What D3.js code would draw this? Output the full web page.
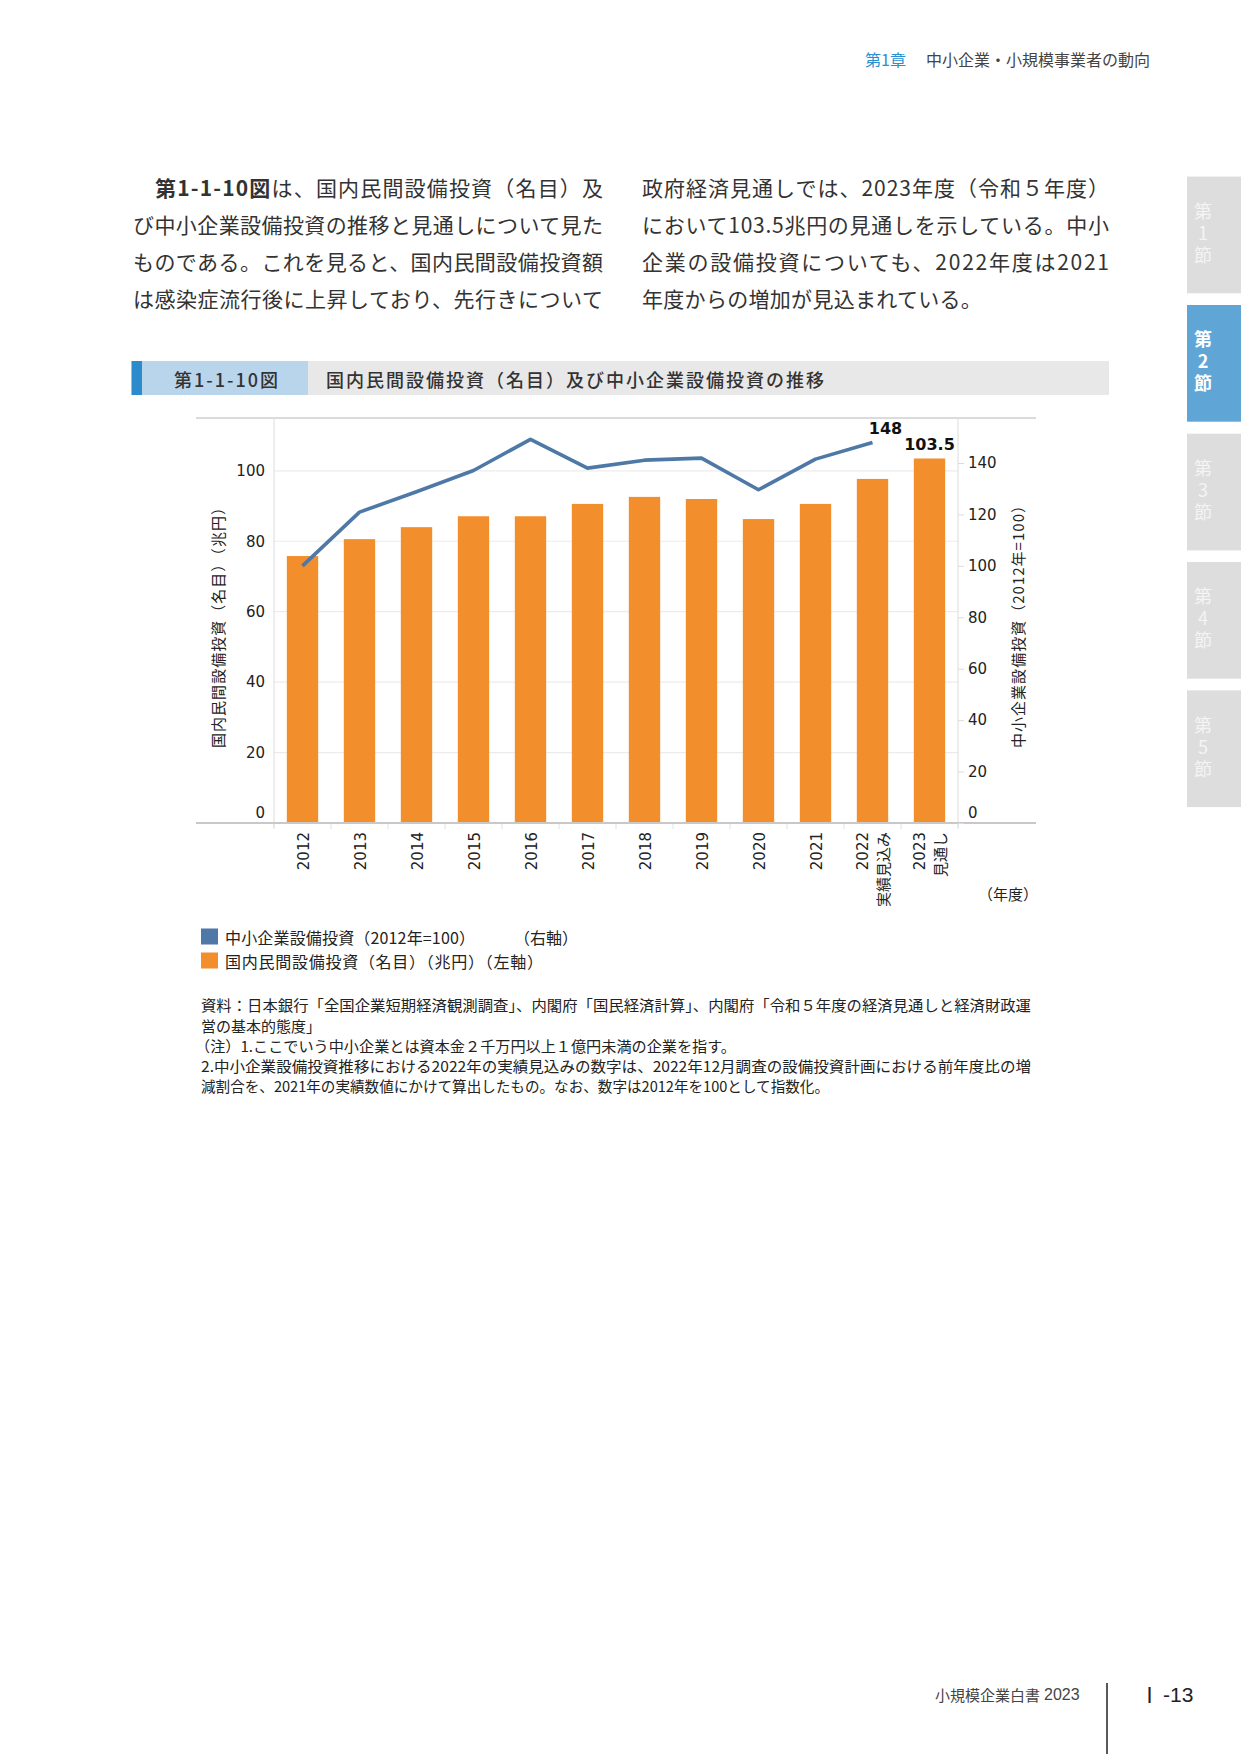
<!DOCTYPE html>
<html><head><meta charset="utf-8">
<script src="https://cdn.jsdelivr.net/npm/d3@7"></script>
<style>
body{margin:0;background:#fff}
svg{display:block}
.vtab{writing-mode:vertical-rl;text-orientation:upright}
</style>
</head><body>
<svg id="page" width="1241" height="1754"></svg>
<script>
// ---------- data ----------
const years = ["2012","2013","2014","2015","2016","2017","2018","2019","2020","2021","2022","2023"];
const yearNotes = ["","","","","","","","","","","実績見込み","見通し"];
const domesticCapex = [75.8, 80.6, 84.0, 87.1, 87.1, 90.6, 92.6, 92.0, 86.3, 90.6, 97.7, 103.5]; // 兆円 (left axis)
const smeIndexYears = ["2012","2013","2014","2015","2016","2017","2018","2019","2020","2021","2022"];
const smeIndex = [100, 120.9, 128.8, 137.1, 149.2, 138.0, 141.1, 141.9, 129.6, 141.5, 148]; // 2012=100 (right axis)
const leftTicks = [0, 20, 40, 60, 80, 100];
const rightTicks = [0, 20, 40, 60, 80, 100, 120, 140];
const dataLabels = [{series:"line", year:"2022", text:"148"}, {series:"bar", year:"2023", text:"103.5"}];

const leftTitle = "国内民間設備投資（名目）（兆円）";
const rightTitle = "中小企業設備投資（2012年=100）";
const legendLine = "中小企業設備投資（2012年=100）";
const legendLineAxis = "（右軸）";
const legendBar = "国内民間設備投資（名目）（兆円）（左軸）";
const notes = [
  "資料：日本銀行「全国企業短期経済観測調査」、内閣府「国民経済計算」、内閣府「令和５年度の経済見通しと経済財政運",
  "営の基本的態度」",
  "（注）1.ここでいう中小企業とは資本金２千万円以上１億円未満の企業を指す。",
  "2.中小企業設備投資推移における2022年の実績見込みの数字は、2022年12月調査の設備投資計画における前年度比の増",
  "減割合を、2021年の実績数値にかけて算出したもの。なお、数字は2012年を100として指数化。"
];
const paraLeft = [
  "は、国内民間設備投資（名目）及",
  "び中小企業設備投資の推移と見通しについて見た",
  "ものである。これを見ると、国内民間設備投資額",
  "は感染症流行後に上昇しており、先行きについて"
];
const paraRight = [
  "政府経済見通しでは、2023年度（令和５年度）",
  "において103.5兆円の見通しを示している。中小",
  "企業の設備投資についても、2022年度は2021",
  "年度からの増加が見込まれている。"
];
const tabs = ["1","2","3","4","5"];

// ---------- page ----------
const svg = d3.select("#page");
const JP = "'Noto Sans CJK JP', 'Noto Sans', sans-serif";
const CH = "'DejaVu Sans', 'Noto Sans CJK JP', sans-serif";
const BLUE = "#4e79a7", ORANGE = "#f28e2b";

// header
const hdr = svg.append("text").attr("x", 865).attr("y", 59).attr("dominant-baseline", "central")
  .attr("font-family", JP).attr("font-size", 16);
hdr.append("tspan").attr("fill", "#2a8fd0").text("第1章");
hdr.append("tspan").attr("x", 926).attr("fill", "#444").text("中小企業・小規模事業者の動向");

// side tabs
const tabTops = [176.6, 305, 433.7, 562, 690.4];
tabs.forEach((t, i) => {
  const g = svg.append("g");
  const active = i === 1;
  g.append("rect").attr("x", 1187).attr("y", tabTops[i]).attr("width", 54).attr("height", 116.7)
    .attr("fill", active ? "#5fa6d7" : "#dddddd");
  const cy = tabTops[i] + 58.3;
  g.append("text").attr("class", "vtab").attr("x", 1203).attr("y", cy).attr("text-anchor", "middle")
    .attr("font-family", JP).attr("font-size", 18).attr("letter-spacing", 4)
    .attr("font-weight", active ? 700 : 400)
    .attr("fill", active ? "#ffffff" : "#f4f4f4").text("第" + t + "節");
});

// paragraph
const lineY = [187, 223.5, 261, 298];
paraLeft.forEach((s, i) => {
  const t = svg.append("text").attr("y", lineY[i]).attr("dominant-baseline", "central")
    .attr("font-family", JP).attr("font-size", 21).attr("fill", "#333");
  if (i === 0) {
    t.attr("x", 155).attr("textLength", 448).attr("lengthAdjust", "spacing");
    t.append("tspan").attr("font-weight", 700).text("第1-1-10図");
    t.append("tspan").text(s);
  } else {
    t.attr("x", 133).attr("textLength", 470).attr("lengthAdjust", "spacing").text(s);
  }
});
paraRight.forEach((s, i) => {
  const t = svg.append("text").attr("x", 642).attr("y", lineY[i]).attr("dominant-baseline", "central")
    .attr("font-family", JP).attr("font-size", 21).attr("fill", "#333").text(s);
  if (i < 3) t.attr("textLength", 467).attr("lengthAdjust", "spacing");
  else t.attr("letter-spacing", 0.3);
});

// figure title bar
svg.append("rect").attr("x", 131.5).attr("y", 361).attr("width", 977.5).attr("height", 34).attr("fill", "#e8e8e8");
svg.append("rect").attr("x", 131.5).attr("y", 361).attr("width", 10.5).attr("height", 34).attr("fill", "#2b8bcb");
svg.append("rect").attr("x", 142).attr("y", 361).attr("width", 166).attr("height", 34).attr("fill", "#b9d5eb");
svg.append("text").attr("x", 226).attr("y", 378.5).attr("text-anchor", "middle").attr("dominant-baseline", "central")
  .attr("font-family", JP).attr("font-size", 18).attr("font-weight", 500).attr("fill", "#333")
  .attr("textLength", 104).attr("lengthAdjust", "spacing").text("第1-1-10図");
svg.append("text").attr("x", 326).attr("y", 378.5).attr("dominant-baseline", "central")
  .attr("font-family", JP).attr("font-size", 18).attr("font-weight", 500).attr("fill", "#333")
  .attr("textLength", 498).attr("lengthAdjust", "spacing").text("国内民間設備投資（名目）及び中小企業設備投資の推移");

// ---------- chart ----------
const L = 274, R = 958, T = 418, B = 823;
const x = d3.scaleBand().domain(years).range([L, R]).paddingInner(0.45).paddingOuter(0.225);
const yL = d3.scaleLinear().domain([0, 115]).range([B, T]);
const yR = d3.scaleLinear().domain([0, 157.5]).range([B, T]);
const cx = d => x(d) + x.bandwidth() / 2;

// gridlines
svg.append("g").selectAll("line").data(leftTicks.filter(d => d > 0)).join("line")
  .attr("x1", L).attr("x2", R).attr("y1", d => yL(d)).attr("y2", d => yL(d))
  .attr("stroke", "#ececec").attr("stroke-width", 1.2);

// frame
svg.append("line").attr("x1", 196).attr("x2", 1036).attr("y1", T).attr("y2", T).attr("stroke", "#cfcfcf").attr("stroke-width", 1.5);
svg.append("line").attr("x1", L).attr("x2", L).attr("y1", T).attr("y2", 828).attr("stroke", "#dcdcdc").attr("stroke-width", 1);
svg.append("line").attr("x1", R).attr("x2", R).attr("y1", T).attr("y2", 828).attr("stroke", "#dcdcdc").attr("stroke-width", 1);

// bars
svg.append("g").selectAll("rect").data(years).join("rect")
  .attr("x", d => x(d)).attr("width", x.bandwidth())
  .attr("y", (d, i) => yL(domesticCapex[i])).attr("height", (d, i) => B - yL(domesticCapex[i]))
  .attr("fill", ORANGE);

// baseline
svg.append("line").attr("x1", 196).attr("x2", 1036).attr("y1", B).attr("y2", B).attr("stroke", "#c8c8c8").attr("stroke-width", 2);

// category boundary ticks
const bounds = years.map(d => cx(d) - x.step() / 2).concat([cx(years[years.length - 1]) + x.step() / 2]);
svg.append("g").selectAll("line").data(bounds).join("line")
  .attr("x1", d => d).attr("x2", d => d).attr("y1", B + 1).attr("y2", B + 6)
  .attr("stroke", "#e0e0e0").attr("stroke-width", 1);

// line
const lineGen = d3.line().x(d => cx(d.year)).y(d => yR(d.v));
svg.append("path").datum(smeIndexYears.map((y, i) => ({year: y, v: smeIndex[i]})))
  .attr("d", lineGen).attr("fill", "none").attr("stroke", BLUE).attr("stroke-width", 3.6)
  .attr("stroke-linejoin", "round");

// left axis
const axL = svg.append("g").attr("transform", `translate(${L},0)`)
  .call(d3.axisLeft(yL).tickValues(leftTicks).tickSize(0).tickPadding(9));
axL.select(".domain").remove();
axL.selectAll("text").attr("font-family", CH).attr("font-size", 15).attr("fill", "#222")
  .attr("dy", d => d === 0 ? "-0.35em" : "0.32em");

// right axis
const axR = svg.append("g").attr("transform", `translate(${R},0)`)
  .call(d3.axisRight(yR).tickValues(rightTicks).tickSize(6).tickPadding(4));
axR.select(".domain").remove();
axR.selectAll("line").attr("stroke", "#dcdcdc");
axR.selectAll("text").attr("font-family", CH).attr("font-size", 15).attr("fill", "#222")
  .attr("dy", d => d === 0 ? "-0.35em" : "0.32em");

// x labels (rotated)
const xl = svg.append("g");
years.forEach((yr, i) => {
  const c = cx(yr);
  if (yearNotes[i]) {
    xl.append("text").attr("transform", `translate(${c - 9.5},832) rotate(-90)`)
      .attr("text-anchor", "end").attr("dominant-baseline", "central")
      .attr("font-family", CH).attr("font-size", 15).attr("fill", "#222").text(yr);
    xl.append("text").attr("transform", `translate(${c + 10},832) rotate(-90)`)
      .attr("text-anchor", "end").attr("dominant-baseline", "central")
      .attr("font-family", JP).attr("font-size", 15).attr("fill", "#222").text(yearNotes[i]);
  } else {
    xl.append("text").attr("transform", `translate(${c + 1},832) rotate(-90)`)
      .attr("text-anchor", "end").attr("dominant-baseline", "central")
      .attr("font-family", CH).attr("font-size", 15).attr("fill", "#222").text(yr);
  }
});

// axis titles
svg.append("text").attr("transform", "translate(217,624) rotate(-90)").attr("text-anchor", "middle")
  .attr("dominant-baseline", "central").attr("font-family", JP).attr("font-size", 15).attr("fill", "#222")
  .attr("textLength", 248).attr("lengthAdjust", "spacing").text(leftTitle);
svg.append("text").attr("transform", "translate(1017,623) rotate(-90)").attr("text-anchor", "middle")
  .attr("dominant-baseline", "central").attr("font-family", JP).attr("font-size", 15).attr("fill", "#222")
  .attr("textLength", 250).attr("lengthAdjust", "spacing").text(rightTitle);
svg.append("text").attr("x", 1008).attr("y", 893).attr("text-anchor", "middle").attr("dominant-baseline", "central")
  .attr("font-family", JP).attr("font-size", 15).attr("fill", "#222").text("（年度）");

// data labels
dataLabels.forEach(dl => {
  let px, py;
  if (dl.series === "line") {
    const i = smeIndexYears.indexOf(dl.year);
    px = cx(dl.year) + 13; py = yR(smeIndex[i]) - 14;
  } else {
    const i = years.indexOf(dl.year);
    px = cx(dl.year); py = yL(domesticCapex[i]) - 14;
  }
  svg.append("text").attr("x", px).attr("y", py).attr("text-anchor", "middle").attr("dominant-baseline", "central")
    .attr("font-family", CH).attr("font-size", 16).attr("font-weight", 700).attr("fill", "#111").text(dl.text);
});

// legend
svg.append("rect").attr("x", 201).attr("y", 928.5).attr("width", 17).attr("height", 16).attr("fill", BLUE);
svg.append("rect").attr("x", 201).attr("y", 952.5).attr("width", 17).attr("height", 16).attr("fill", ORANGE);
svg.append("text").attr("x", 225).attr("y", 937).attr("dominant-baseline", "central").attr("font-family", JP)
  .attr("font-size", 16).attr("fill", "#222").attr("textLength", 250).attr("lengthAdjust", "spacing").text(legendLine);
svg.append("text").attr("x", 514).attr("y", 937).attr("dominant-baseline", "central").attr("font-family", JP)
  .attr("font-size", 16).attr("fill", "#222").text(legendLineAxis);
svg.append("text").attr("x", 225).attr("y", 961).attr("dominant-baseline", "central").attr("font-family", JP)
  .attr("font-size", 16).attr("fill", "#222").attr("textLength", 318).attr("lengthAdjust", "spacing").text(legendBar);

// notes
const noteY = [1004, 1025, 1045, 1065, 1085];
const noteX = [201, 201, 195, 201, 201];
const noteW = [830, 120, 541, 830, 628];
notes.forEach((s, i) => {
  svg.append("text").attr("x", noteX[i]).attr("y", noteY[i]).attr("dominant-baseline", "central")
    .attr("font-family", JP).attr("font-size", 15).attr("fill", "#222")
    .attr("textLength", noteW[i]).attr("lengthAdjust", "spacingAndGlyphs").text(s);
});

// footer
svg.append("text").attr("x", 935).attr("y", 1694).attr("dominant-baseline", "central").attr("font-family", JP)
  .attr("font-size", 15).attr("fill", "#444").text("小規模企業白書");
svg.append("text").attr("x", 1044).attr("y", 1694).attr("dominant-baseline", "central").attr("font-family", "'Liberation Sans', sans-serif")
  .attr("font-size", 16).attr("fill", "#444").text("2023");
svg.append("line").attr("x1", 1107).attr("x2", 1107).attr("y1", 1683).attr("y2", 1754).attr("stroke", "#222").attr("stroke-width", 1.5);
const pg = svg.append("text").attr("x", 1139).attr("y", 1694).attr("dominant-baseline", "central")
  .attr("font-size", 21).attr("fill", "#222");
pg.append("tspan").attr("font-family", JP).text("Ⅰ");
pg.append("tspan").attr("dx", 3).attr("font-family", "'Liberation Sans', sans-serif").text("-13");
</script>
</body></html>
